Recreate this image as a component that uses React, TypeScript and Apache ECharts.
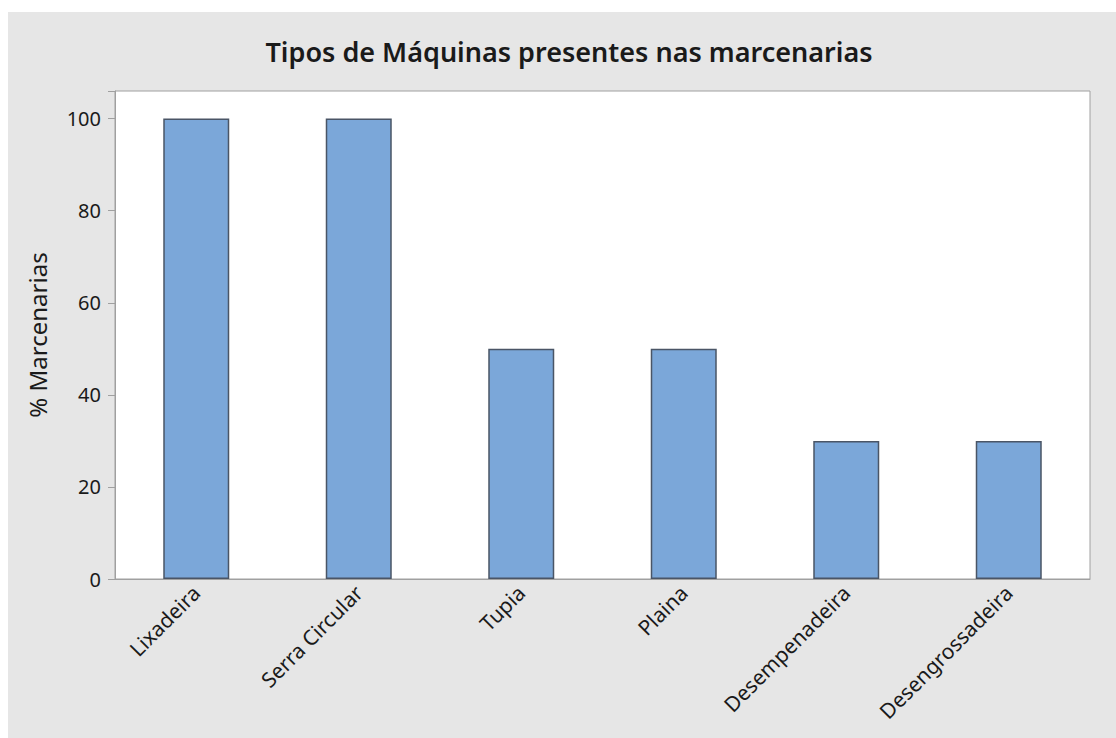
import React, { useEffect, useRef } from "react";
import * as echarts from "echarts";

const categories = ["Lixadeira", "Serra Circular", "Tupia", "Plaina", "Desempenadeira", "Desengrossadeira"];
const values = [100, 100, 50, 50, 30, 30];
const titleText = "Tipos de Máquinas presentes nas marcenarias";
const yAxisName = "% Marcenarias";

export default function App() {
  const ref = useRef<HTMLDivElement>(null);
  useEffect(() => {
    if (!ref.current) return;
    const chart = echarts.init(ref.current, null, { renderer: "svg" });
    const font = "'Noto Sans', 'Open Sans', sans-serif";
    chart.setOption({
      animation: false,
      backgroundColor: "#e6e6e6",
      title: {
        text: titleText,
        left: 556,
        top: 21,
        textAlign: "center",
        textStyle: { fontFamily: font, fontSize: 27, fontWeight: 600, color: "#1a1a1a" },
      },
      grid: { left: 107, top: 79, right: 26, bottom: 159, containLabel: false, show: true, backgroundColor: "#ffffff", borderColor: "#a0a0a0", borderWidth: 1 },
      xAxis: {
        type: "category",
        data: categories,
        axisLine: { lineStyle: { color: "#a0a0a0" } },
        axisTick: { alignWithLabel: true, length: 6, lineStyle: { color: "#a0a0a0" } },
        axisLabel: { rotate: 45, fontFamily: font, fontSize: 21, color: "#1a1a1a", margin: 10, interval: 0 },
      },
      yAxis: {
        type: "value",
        min: 0,
        max: 106,
        interval: 20,
        name: yAxisName,
        nameLocation: "middle",
        nameGap: 66,
        nameTextStyle: { fontFamily: font, fontSize: 24, color: "#1a1a1a" },
        axisLine: { show: true, lineStyle: { color: "#a0a0a0" } },
        axisTick: { show: true, length: 7, lineStyle: { color: "#a0a0a0" } },
        axisLabel: {
          fontFamily: font,
          fontSize: 20,
          color: "#1a1a1a",
          margin: 14,
          formatter: (v: number) => (v % 20 === 0 ? String(v) : ""),
        },
        splitLine: { show: false },
      },
      series: [
        {
          type: "bar",
          data: values,
          barWidth: 66,
          itemStyle: { color: "#7ba7d9", borderColor: "#4a5566", borderWidth: 1.5 },
        },
      ],
    });
    return () => chart.dispose();
  }, []);
  return (
    <div style={{ position: "absolute", left: 0, top: 0, width: 1116, height: 738, background: "#ffffff" }}>
      <div ref={ref} style={{ position: "absolute", left: 8, top: 12, width: 1108, height: 726 }} />
    </div>
  );
}
